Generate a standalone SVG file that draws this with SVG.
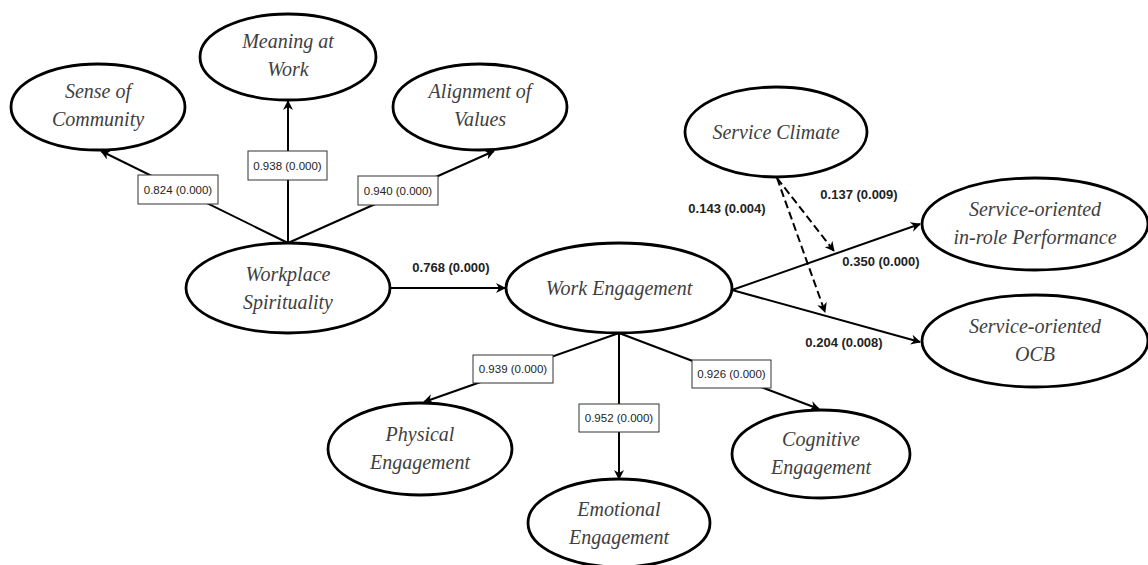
<svg xmlns="http://www.w3.org/2000/svg" width="1148" height="565" viewBox="0 0 1148 565">
<style>
.node ellipse{fill:#fff;stroke:#000;stroke-width:2.8}
.node text{font-family:"Liberation Serif",serif;font-style:italic;font-size:20px;fill:#404040;text-anchor:middle}
.conn line{stroke:#000;stroke-width:2;fill:none}
.conn .dash{stroke-dasharray:8 4}
.box rect{fill:#fff;stroke:#333;stroke-width:1}
.box text{font-family:"Liberation Sans",sans-serif;font-size:11.5px;fill:#222;text-anchor:middle}
.lbl{font-family:"Liberation Sans",sans-serif;font-size:13px;font-weight:bold;fill:#222;text-anchor:middle}
</style>
<defs>
<marker id="ah" viewBox="0 0 10 10" refX="9" refY="5" markerWidth="5" markerHeight="5" orient="auto" markerUnits="strokeWidth">
<path d="M0,0 L10,5 L0,10 L3,5 Z" fill="#000"/>
</marker>
</defs>
<g class="conn" id="connectors">
<line x1="288" y1="243" x2="101" y2="151" marker-end="url(#ah)"/>
<line x1="288" y1="243" x2="288" y2="101" marker-end="url(#ah)"/>
<line x1="288" y1="243" x2="494" y2="151" marker-end="url(#ah)"/>
<line x1="391" y1="288" x2="505" y2="288" marker-end="url(#ah)"/>
<line x1="732" y1="290" x2="920" y2="224" marker-end="url(#ah)"/>
<line x1="732" y1="290" x2="920" y2="342" marker-end="url(#ah)"/>
<line x1="619" y1="333" x2="424" y2="402" marker-end="url(#ah)"/>
<line x1="619" y1="333" x2="619" y2="479" marker-end="url(#ah)"/>
<line x1="619" y1="333" x2="819" y2="409" marker-end="url(#ah)"/>
<line class="dash" x1="777" y1="178" x2="834" y2="251" marker-end="url(#ah)"/>
<line class="dash" x1="777" y1="178" x2="825" y2="312" marker-end="url(#ah)"/>
</g>
<g class="box" id="loadings">
<g id="box-824"><rect x="138" y="175" width="80" height="29"/><text x="178" y="194">0.824 (0.000)</text></g>
<g id="box-938"><rect x="248" y="151" width="79" height="29"/><text x="287.5" y="170">0.938 (0.000)</text></g>
<g id="box-940"><rect x="358" y="176" width="80" height="29"/><text x="398" y="195">0.940 (0.000)</text></g>
<g id="box-939"><rect x="473" y="355" width="80" height="28"/><text x="513" y="373">0.939 (0.000)</text></g>
<g id="box-952"><rect x="579" y="404" width="80" height="28"/><text x="619" y="422">0.952 (0.000)</text></g>
<g id="box-926"><rect x="692" y="360" width="79" height="28"/><text x="731.5" y="378">0.926 (0.000)</text></g>
</g>
<g id="path-labels">
<text class="lbl" x="451" y="272">0.768 (0.000)</text>
<text class="lbl" x="727" y="213">0.143 (0.004)</text>
<text class="lbl" x="859" y="199">0.137 (0.009)</text>
<text class="lbl" x="881" y="266">0.350 (0.000)</text>
<text class="lbl" x="844" y="347">0.204 (0.008)</text>
</g>
<g class="node" id="sense-of-community"><ellipse cx="98" cy="107" rx="87" ry="43"/><text x="98" y="98">Sense of</text><text x="98" y="126">Community</text></g>
<g class="node" id="meaning-at-work"><ellipse cx="288" cy="57" rx="88" ry="43"/><text x="288" y="48">Meaning at</text><text x="288" y="76">Work</text></g>
<g class="node" id="alignment-of-values"><ellipse cx="480" cy="107" rx="87" ry="43"/><text x="480" y="98">Alignment of</text><text x="480" y="126">Values</text></g>
<g class="node" id="workplace-spirituality"><ellipse cx="288" cy="288" rx="102" ry="45"/><text x="288" y="281">Workplace</text><text x="288" y="309">Spirituality</text></g>
<g class="node" id="work-engagement"><ellipse cx="619" cy="288" rx="113" ry="45"/><text x="619" y="295">Work Engagement</text></g>
<g class="node" id="service-climate"><ellipse cx="776" cy="132" rx="91" ry="45"/><text x="776" y="139">Service Climate</text></g>
<g class="node" id="in-role-performance"><ellipse cx="1035" cy="224" rx="113" ry="46"/><text x="1035" y="216">Service-oriented</text><text x="1035" y="244">in-role Performance</text></g>
<g class="node" id="ocb"><ellipse cx="1035" cy="341" rx="113" ry="46"/><text x="1035" y="333">Service-oriented</text><text x="1035" y="361">OCB</text></g>
<g class="node" id="physical-engagement"><ellipse cx="420" cy="449" rx="92" ry="46"/><text x="420" y="441">Physical</text><text x="420" y="469">Engagement</text></g>
<g class="node" id="emotional-engagement"><ellipse cx="619" cy="523" rx="91" ry="44"/><text x="619" y="516">Emotional</text><text x="619" y="544">Engagement</text></g>
<g class="node" id="cognitive-engagement"><ellipse cx="821" cy="454" rx="89" ry="44"/><text x="821" y="446">Cognitive</text><text x="821" y="474">Engagement</text></g>
</svg>
